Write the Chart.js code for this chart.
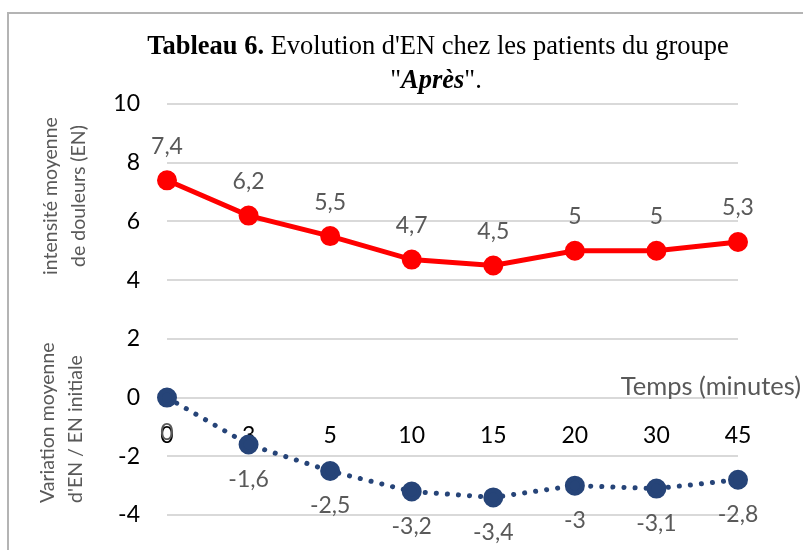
<!DOCTYPE html>
<html lang="fr">
<head>
<meta charset="utf-8">
<script src="https://cdn.jsdelivr.net/npm/chart.js@4"></script>
<style>
  html, body { margin: 0; padding: 0; background: #fff; overflow: hidden; }
  canvas { display: block; }
</style>
</head>
<body>
<canvas id="graphique" width="803" height="550"></canvas>
<script>
// Données
const temps = ['0', '3', '5', '10', '15', '20', '30', '45'];
const intensiteEN = [7.4, 6.2, 5.5, 4.7, 4.5, 5, 5, 5.3];
const variationEN = [0, -1.6, -2.5, -3.2, -3.4, -3, -3.1, -2.8];
const ticksY = [-4, -2, 0, 2, 4, 6, 8, 10];

const police = 'Lato, "Open Sans", sans-serif';
const gris = '#595959';

// Format français : virgule décimale
function fr(v) {
    return String(v).replace('.', ',');
}

// Titre, cadre, titres d'axes et étiquettes de valeurs
const decor = {
    id: 'decor',
    beforeDraw(chart) {
        const ctx = chart.ctx;
        ctx.save();
        ctx.fillStyle = '#fff';
        ctx.fillRect(0, 0, chart.width, chart.height);
        ctx.strokeStyle = '#b4b4b4';
        ctx.lineWidth = 2;
        ctx.strokeRect(8, 13, 900, 700);
        ctx.restore();
    },
    afterDraw(chart) {
        const ctx = chart.ctx;
        const y0 = chart.scales.y.getPixelForValue(0);
        ctx.save();

        // titre en deux lignes, avec gras / italique
        const serif = '"Liberation Serif", "Times New Roman", serif';
        const taille = 26.5;
        function ligne(parts, cx, y) {
            let total = 0;
            parts.forEach(p => {
                ctx.font = p.f + ' ' + taille + 'px ' + serif;
                total += ctx.measureText(p.t).width;
            });
            let x = cx - total / 2;
            parts.forEach(p => {
                ctx.font = p.f + ' ' + taille + 'px ' + serif;
                ctx.fillText(p.t, x, y);
                x += ctx.measureText(p.t).width;
            });
        }
        ctx.fillStyle = '#000';
        ctx.textAlign = 'left';
        ctx.textBaseline = 'middle';
        ligne([{ t: 'Tableau 6.', f: 'bold' }, { t: " Evolution d'EN chez les patients du groupe", f: 'normal' }], 438, 47);
        ligne([{ t: '"', f: 'normal' }, { t: 'Après', f: 'italic bold' }, { t: '".', f: 'normal' }], 436, 81);

        // titres verticaux
        ctx.fillStyle = gris;
        ctx.font = '19.5px ' + police;
        function vertical(l1, l2, x, y, align) {
            ctx.save();
            ctx.translate(x, y);
            ctx.rotate(-Math.PI / 2);
            ctx.textAlign = align;
            ctx.fillText(l1, 0, -14);
            ctx.fillText(l2, 0, 14);
            ctx.restore();
        }
        vertical('intensité moyenne', 'de douleurs (EN)', 65, 196, 'center');
        vertical('Variation moyenne', "d'EN / EN initiale", 62, 503, 'left');

        // titre de l'axe des temps
        ctx.font = '25.5px ' + police;
        ctx.textAlign = 'right';
        ctx.fillText('Temps (minutes)', 801, y0 - 11);

        // étiquettes de valeurs
        ctx.font = '23px ' + police;
        ctx.textAlign = 'center';
        chart.data.datasets.forEach((ds, i) => {
            const meta = chart.getDatasetMeta(i);
            const dy = ds.label === 'intensite' ? -34 : 35;
            meta.data.forEach((pt, j) => {
                ctx.fillText(fr(ds.data[j]), pt.x, pt.y + dy);
            });
        });
        ctx.restore();
    }
};

new Chart(document.getElementById('graphique'), {
    type: 'line',
    data: {
        labels: temps,
        datasets: [{
            label: 'intensite',
            data: intensiteEN,
            borderColor: '#ff0000',
            backgroundColor: '#ff0000',
            borderWidth: 5,
            pointRadius: 7.5,
            pointHoverRadius: 7.5,
            tension: 0
        }, {
            label: 'variation',
            data: variationEN,
            borderColor: '#264478',
            backgroundColor: '#264478',
            borderWidth: 5,
            borderDash: [0.1, 11],
            borderCapStyle: 'round',
            pointRadius: 7.5,
            pointHoverRadius: 7.5,
            tension: 0
        }]
    },
    options: {
        responsive: false,
        animation: false,
        layout: { padding: { top: 104, right: 65, bottom: 35, left: 0 } },
        plugins: {
            legend: { display: false },
            tooltip: { enabled: false }
        },
        scales: {
            x: {
                // axe des temps posé sur la ligne y = 0
                position: { y: 0 },
                offset: false,
                grid: { display: false },
                border: { display: false },
                afterFit(scale) {
                    scale.height = 10;
                },
                ticks: {
                    color: '#000',
                    padding: 16,
                    maxRotation: 0,
                    autoSkip: false,
                    font: { family: police, size: 23 }
                }
            },
            y: {
                min: ticksY[0],
                max: ticksY[ticksY.length - 1],
                afterBuildTicks(scale) {
                    scale.ticks = ticksY.map(v => ({ value: v }));
                },
                afterFit(scale) {
                    scale.width = 167;
                    // le padding des graduations ne doit pas rogner la zone de tracé
                    scale.paddingTop = 10;
                    scale.paddingBottom = 10;
                },
                grid: { color: '#d9d9d9', lineWidth: 2, drawTicks: false },
                border: { display: false },
                ticks: {
                    color: '#000',
                    padding: 27,
                    font: { family: police, size: 23 }
                }
            }
        }
    },
    plugins: [decor]
});
</script>
</body>
</html>
